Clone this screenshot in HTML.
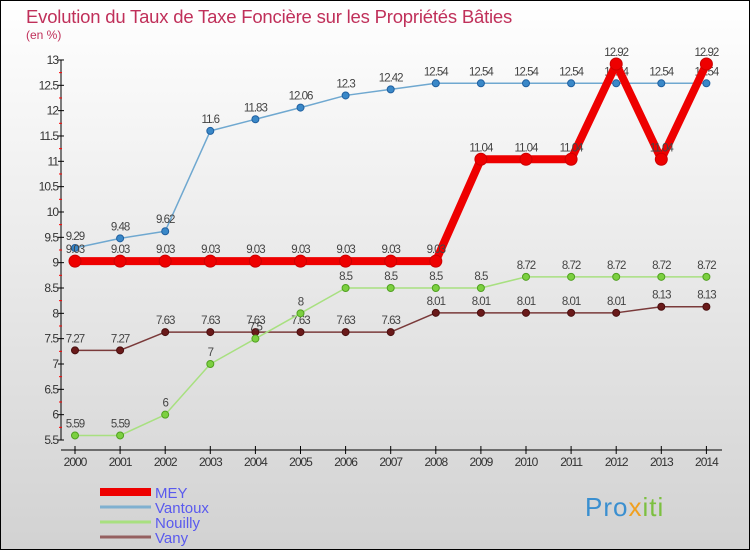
<!DOCTYPE html>
<html><head><meta charset="utf-8"><style>
html,body{margin:0;padding:0}
body{width:750px;height:550px;overflow:hidden;font-family:"Liberation Sans",sans-serif}
</style></head><body>
<svg id="chart" width="750" height="550" xmlns="http://www.w3.org/2000/svg">
<defs><linearGradient id="bg" x1="0" y1="0" x2="0" y2="1"><stop offset="0" stop-color="#ffffff"/><stop offset="1" stop-color="#d2d2d2"/></linearGradient></defs>
<rect x="0.5" y="0.5" width="749" height="549" fill="url(#bg)" stroke="#000"/>
<text x="26" y="23" font-size="18.5" fill="#c0305a" letter-spacing="-0.2">Evolution du Taux de Taxe Foncière sur les Propriétés Bâties</text>
<text x="26" y="39" font-size="12" fill="#c0305a">(en %)</text>
<g id="axes"></g>
<g id="series"></g>
<g id="legend"></g>
<text x="585" y="516" font-size="26" fill="#3a8fd0" letter-spacing="1">Pro<tspan fill="#f0a020">x</tspan><tspan fill="#7cc040">iti</tspan></text>
</svg>
<script>
const years=[2000,2001,2002,2003,2004,2005,2006,2007,2008,2009,2010,2011,2012,2013,2014];
const yTicks=[5.5,6,6.5,7,7.5,8,8.5,9,9.5,10,10.5,11,11.5,12,12.5,13];
const seriesNames=["MEY","Vantoux","Nouilly","Vany"];
const mey=[9.03,9.03,9.03,9.03,9.03,9.03,9.03,9.03,9.03,11.04,11.04,11.04,12.92,11.04,12.92];
const vantoux=[9.29,9.48,9.62,11.6,11.83,12.06,12.3,12.42,12.54,12.54,12.54,12.54,12.54,12.54,12.54];
const nouilly=[5.59,5.59,6,7,7.5,8,8.5,8.5,8.5,8.5,8.72,8.72,8.72,8.72,8.72];
const vany=[7.27,7.27,7.63,7.63,7.63,7.63,7.63,7.63,8.01,8.01,8.01,8.01,8.01,8.13,8.13];
const NS="http://www.w3.org/2000/svg";
const x=i=>75+i*45.1;
const y=v=>440-(v-5.5)*50.67;
function mk(t,a,p){const e=document.createElementNS(NS,t);for(const k in a)e.setAttribute(k,a[k]);p.appendChild(e);return e;}
const axes=document.getElementById('axes');
let e=mk('line',{x1:61,y1:60,x2:61,y2:440,stroke:'#000'},axes);


e=mk('line',{x1:61,y1:450,x2:722,y2:450,stroke:'#000'},axes);


yTicks.forEach(v=>{
  mk('line',{x1:58,y1:y(v),x2:64,y2:y(v),stroke:'#000'},axes);
  if(v<13) mk('line',{x1:59,y1:y(v+0.25),x2:62,y2:y(v+0.25),stroke:'#f00'},axes);
  const t=mk('text',{x:58,y:y(v)+4,'font-size':12,'text-anchor':'end',fill:'#333','letter-spacing':'-1'},axes);
  t.textContent=v;
  
  
});
years.forEach((yr,i)=>{
  mk('line',{x1:x(i),y1:446,x2:x(i),y2:454,stroke:'#000'},axes);
  const t=mk('text',{x:x(i),y:466,'font-size':12,'text-anchor':'middle',fill:'#333','letter-spacing':'-1'},axes);
  t.textContent=yr;
  
  
});
const sg=document.getElementById('series');
function draw(vals,name,color,width,r,dot,dotStroke){
  const g=mk('g',{},sg);
  
  
  const p=mk('polyline',{points:vals.map((v,i)=>x(i)+','+y(v)).join(' '),fill:'none',stroke:color,'stroke-width':width,'stroke-linejoin':'round'},g);
  
  
  vals.forEach((v,i)=>{
    const c=mk('circle',{cx:x(i),cy:y(v),r:r,fill:dot,stroke:dotStroke,'stroke-width':1},g);
    
    
    const t=mk('text',{x:x(i),y:y(v)-8,'font-size':11.5,'text-anchor':'middle',fill:'#444','letter-spacing':'-1'},g);
    t.textContent=v;
    
    
  });
}
draw(vany,'vany','#7a3a3a',1.5,3.5,'#6a1a1a','#4a1010');
draw(nouilly,'nouilly','#a8e080',1.5,3.5,'#7cd040','#50a020');
draw(vantoux,'vantoux','#6fa8d0',1.5,3.5,'#3a88c8','#2060a0');
draw(mey,'mey','#ee0000',8,6,'#ee0000','#cc0000');
const lg=document.getElementById('legend');
const lcol=['#ee0000','#7fb0d0','#a8e080','#956060'],lw=[8,3,3,3];
seriesNames.forEach((n,i)=>{
  const yy=492+i*15;
  const l=mk('line',{x1:100,y1:yy,x2:151,y2:yy,stroke:lcol[i],'stroke-width':lw[i]},lg);
  
  
  const t=mk('text',{x:155,y:yy+6,'font-size':15,fill:'#5a5aee'},lg);
  t.textContent=n;
  
  
});
</script>
</body></html>
